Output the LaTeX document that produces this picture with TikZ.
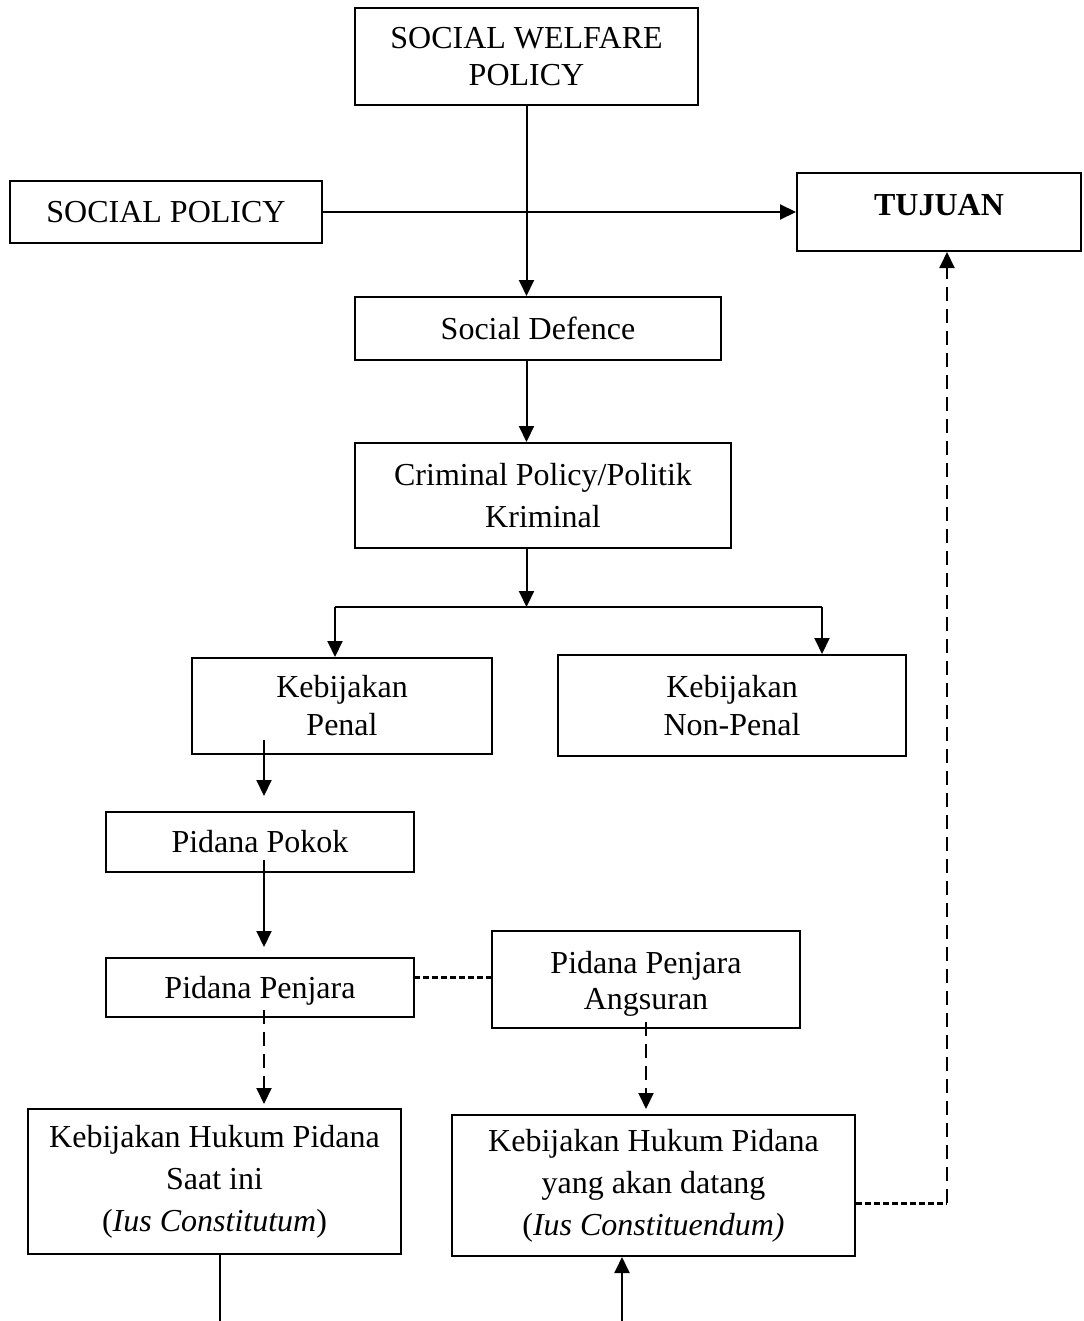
\documentclass[tikz,border=0pt]{standalone}
\usepackage{fontspec}
\setmainfont{Liberation Serif}
\usetikzlibrary{arrows.meta}
\begin{document}
\begin{tikzpicture}[x=0.5pt,y=-0.5pt,
  box/.style={draw, line width=1pt, align=center, inner sep=0pt, font=\fontsize{16}{19}\selectfont},
  wide/.style={font=\fontsize{16}{21}\selectfont},
  conn/.style={line width=1pt},
  arr/.style={conn, -{Triangle[length=8pt,width=7.5pt]}},
  dshort/.style={line width=1.5pt, dash pattern=on 3pt off 1.5pt},
  dlong/.style={line width=1pt, dash pattern=on 7pt off 4pt},
  darr/.style={dlong, -{Triangle[length=8pt,width=7.5pt]}}]
\useasboundingbox (0,0) rectangle (1083,1321);
% boxes
\node[box, minimum width=171.5pt, minimum height=48.5pt, font=\fontsize{16}{18.5}\selectfont] (swp) at (526.5,56.5) {SOCIAL WELFARE\\POLICY};
\node[box, minimum width=156pt, minimum height=31pt] (sp) at (166,212) {SOCIAL POLICY};
\node[box, minimum width=142pt, minimum height=39pt] (tj) at (939,212) {\raisebox{3.5pt}[\height][\depth]{\textbf{TUJUAN}}};
\node[box, minimum width=183pt, minimum height=31.5pt] (sd) at (538,328.5) {Social Defence};
\node[box, wide, minimum width=188pt, minimum height=52.5pt] (cp) at (543,495.5) {Criminal Policy/Politik\\Kriminal};
\node[box, minimum width=150pt, minimum height=48pt] (kp) at (342,706) {Kebijakan\\Penal};
\node[box, minimum width=174pt, minimum height=50.5pt] (knp) at (732,705.5) {Kebijakan\\Non-Penal};
\node[box, minimum width=154pt, minimum height=30pt] (pk) at (260,842) {Pidana Pokok};
\node[box, minimum width=154pt, minimum height=29.5pt] (pj) at (260,987.5) {\raisebox{-1.5pt}[\height][\depth]{Pidana Penjara}};
\node[box, minimum width=154pt, minimum height=48.5pt, font=\fontsize{16}{18}\selectfont] (ang) at (646,979.5) {\raisebox{-2pt}[\height][\depth]{Pidana Penjara}\\\raisebox{-2pt}[\height][\depth]{Angsuran}};
\node[box, wide, minimum width=186.5pt, minimum height=72.5pt] (khpa) at (214.5,1181.5) {Kebijakan Hukum Pidana\\Saat ini\\(\textit{Ius Constitutum})};
\node[box, wide, minimum width=201.5pt, minimum height=70.5pt] (khpb) at (653.5,1185.5) {Kebijakan Hukum Pidana\\yang akan datang\\(\textit{Ius Constituendum)}};
% helper coordinates
\coordinate (bar) at (526.5,607);
\coordinate (barL) at (335,607);
\coordinate (barR) at (822,607);
\coordinate (kpo) at (264,740);
\coordinate (pko) at (264,860);
\coordinate (pjo) at (264,1010);
\coordinate (pjr) at (414,977);
\coordinate (ango) at (646,1022);
\coordinate (bend) at (947,1203);
\coordinate (bot1) at (220,1321);
\coordinate (bot2) at (622,1321);
% connectors
\draw[arr] (swp.south) -- (swp.south |- sd.north);
\draw[arr] (sp.east) -- (sp.east -| tj.west);
\draw[arr] (swp.south |- sd.south) -- (swp.south |- cp.north);
\draw[arr] (swp.south |- cp.south) -- (bar);
\draw[conn, line width=1.3pt] (barL) -- (barR);
\draw[arr] (barL) -- (barL |- kp.north);
\draw[arr] (barR) -- (barR |- knp.north);
\draw[arr, shorten >=7.5pt] (kpo) -- (kpo |- pk.north);
\draw[arr, shorten >=5pt] (pko) -- (pko |- pj.north);
\draw[dshort] (pjr) -- (pjr -| ang.west);
\draw[darr, shorten >=2pt] (pjo) -- (pjo |- khpa.north);
\draw[darr, shorten >=2.5pt] (ango) -- (ango |- khpb.north);
\draw[dshort] (bend -| khpb.east) -- (bend);
\draw[darr] (bend) -- (bend |- tj.south);
\draw[conn] (bot1 |- khpa.south) -- (bot1);
\draw[arr] (bot2) -- (bot2 |- khpb.south);
\end{tikzpicture}
\end{document}
